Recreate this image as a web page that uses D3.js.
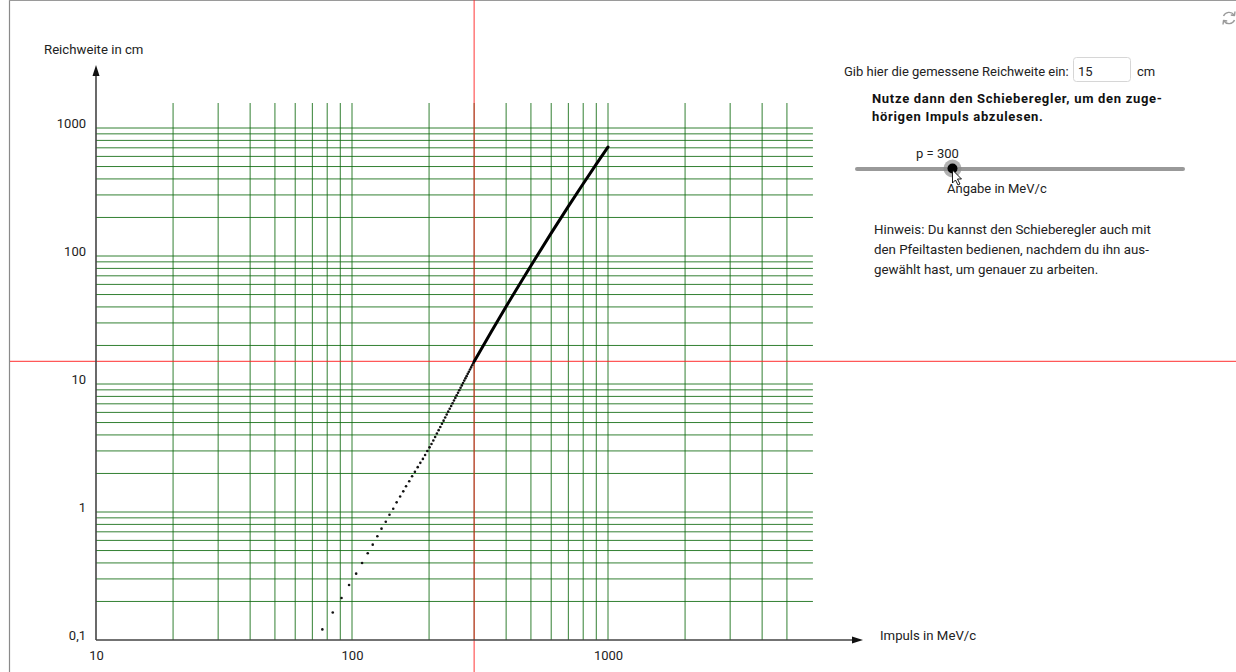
<!DOCTYPE html>
<html>
<head>
<meta charset="utf-8">
<script src="https://cdn.jsdelivr.net/npm/d3@7"></script>
<style>
  html, body { margin: 0; padding: 0; background: #fff; }
  svg { display: block; font-family: Roboto, "Open Sans", sans-serif; }
</style>
</head>
<body>
<svg id="chart" width="1236" height="672"></svg>
<script>
// Reichweite (cm) in Abhängigkeit vom Impuls (MeV/c)

// Punktfolge unterhalb des eingestellten Impulses
const dotMomentum = [76.6, 84.1, 91.0, 97.4, 103.8, 109.5, 115.2, 120.5, 125.6, 130.4,
  135.5, 140.1, 144.9, 149.4, 154.2, 158.6, 162.6, 167.3, 171.7, 176.1,
  180.6, 184.9, 189.2, 193.0, 196.9, 200.9, 204.4, 207.8, 211.2, 214.6,
  218.0, 221.3, 224.6, 227.9, 231.2, 234.4, 237.6, 240.8, 244.0, 247.1,
  250.2, 253.3, 256.4, 259.5, 262.5, 265.5, 268.5, 271.5, 274.5, 277.4,
  280.3, 283.2, 286.1, 289.0, 291.9, 294.7, 297.5];
const dotRange = [0.121, 0.164, 0.213, 0.269, 0.330, 0.400, 0.476, 0.556, 0.647, 0.741,
  0.840, 0.952, 1.06, 1.19, 1.32, 1.45, 1.59, 1.74, 1.90, 2.06,
  2.24, 2.42, 2.60, 2.79, 3.00, 3.20, 3.40, 3.62, 3.85, 4.10,
  4.36, 4.62, 4.89, 5.17, 5.47, 5.77, 6.08, 6.40, 6.74, 7.08,
  7.43, 7.79, 8.16, 8.55, 8.94, 9.35, 9.75, 10.19, 10.63, 11.07,
  11.52, 12.0, 12.47, 12.97, 13.48, 14.0, 14.52];

// durchgezogener Kurventeil ab dem eingestellten Impuls
const lineMomentum = [300, 350, 400, 500, 600, 700, 800, 900, 1000];
const lineRange = [15, 25.6, 40.3, 84, 151, 244, 367, 522, 711];

// Eingestellte Werte
const selectedMomentum = 300;
const measuredRange = 15;

// Gitterlinien
const gridMomentum = [20, 30, 40, 50, 60, 70, 80, 90, 100, 200, 300, 400, 500, 600, 700, 800, 900,
  1000, 2000, 3000, 4000, 5000];
const gridRange = [0.2, 0.3, 0.4, 0.5, 0.6, 0.7, 0.8, 0.9, 1, 2, 3, 4, 5, 6, 7, 8, 9,
  10, 20, 30, 40, 50, 60, 70, 80, 90, 100, 200, 300, 400, 500, 600, 700, 800, 900, 1000];

// Achsenbeschriftung
const xTickValues = [10, 100, 1000];
const xTickLabels = ["10", "100", "1000"];
const yTickValues = [0.1, 1, 10, 100, 1000];
const yTickLabels = ["0,1", "1", "10", "100", "1000"];

// Schieberegler
const sliderDomain = [10, 1000];

const svg = d3.select("#chart");

const x = d3.scaleLog().domain([10, 1000]).range([96, 608]);
const y = d3.scaleLog().domain([0.1, 1000]).range([640, 128]);

const gridColor = "#0f6a0f";
const gridRight = x(5000) + 26;
const gridTop = y(1000) - 25;

// Rahmen
svg.append("line").attr("x1", 9.5).attr("x2", 9.5).attr("y1", 0).attr("y2", 672)
  .attr("stroke", "#8a8a8a").attr("stroke-width", 1.2);
svg.append("line").attr("x1", 9).attr("x2", 1236).attr("y1", 0.5).attr("y2", 0.5)
  .attr("stroke", "#9a9a9a").attr("stroke-width", 1);

// Gitter
const grid = svg.append("g").attr("stroke", gridColor).attr("stroke-width", 1).attr("stroke-opacity", 0.85);
grid.selectAll("line.h").data(gridRange).join("line")
  .attr("class", "h")
  .attr("x1", x(10)).attr("x2", gridRight)
  .attr("y1", d => y(d)).attr("y2", d => y(d));
grid.selectAll("line.v").data(gridMomentum).join("line")
  .attr("class", "v")
  .attr("x1", d => x(d)).attr("x2", d => x(d))
  .attr("y1", gridTop).attr("y2", y(0.1));

// Rote Hilfslinien
svg.append("line")
  .attr("x1", x(selectedMomentum)).attr("x2", x(selectedMomentum))
  .attr("y1", 0).attr("y2", 672)
  .attr("stroke", "#ff2020").attr("stroke-opacity", 0.75).attr("stroke-width", 1.2);
svg.append("line")
  .attr("x1", 10).attr("x2", 1236)
  .attr("y1", y(measuredRange)).attr("y2", y(measuredRange))
  .attr("stroke", "#ff2020").attr("stroke-opacity", 0.75).attr("stroke-width", 1.2);

// Achsen mit Pfeilen
const axisColor = "#444";
svg.append("line").attr("x1", x(10)).attr("x2", x(10)).attr("y1", y(0.1)).attr("y2", 72)
  .attr("stroke", axisColor).attr("stroke-width", 1.6);
svg.append("path")
  .attr("d", `M${x(10)},65 L${x(10) - 3.5},76 L${x(10) + 3.5},76 Z`)
  .attr("fill", "#111");
svg.append("line").attr("x1", x(10)).attr("x2", 856).attr("y1", y(0.1)).attr("y2", y(0.1))
  .attr("stroke", axisColor).attr("stroke-width", 1.6);
svg.append("path")
  .attr("d", `M863,${y(0.1)} L852,${y(0.1) - 3.5} L852,${y(0.1) + 3.5} Z`)
  .attr("fill", "#111");

const xAxis = d3.axisBottom(x).tickValues(xTickValues)
  .tickFormat((d, i) => xTickLabels[i]).tickSize(0).tickPadding(11);
const gx = svg.append("g").attr("transform", `translate(0,${y(0.1)})`).call(xAxis);
gx.select(".domain").remove();
gx.selectAll("text").attr("font-size", 13).attr("fill", "#222")
  .style("font-family", "Roboto, sans-serif");

const yAxis = d3.axisLeft(y).tickValues(yTickValues)
  .tickFormat((d, i) => yTickLabels[i]).tickSize(0).tickPadding(10);
const gy = svg.append("g").attr("transform", `translate(${x(10)},0)`).call(yAxis);
gy.select(".domain").remove();
gy.selectAll("text").attr("font-size", 13).attr("fill", "#222")
  .attr("dy", "-0.05em")
  .style("font-family", "Roboto, sans-serif");

svg.append("text").attr("x", 44).attr("y", 54).attr("font-size", 13.2).attr("fill", "#222")
  .text("Reichweite in cm");
svg.append("text").attr("x", 880).attr("y", 640).attr("font-size", 13.2).attr("fill", "#222")
  .text("Impuls in MeV/c");

// Punktfolge
const dots = dotMomentum.map((p, i) => ({ p, r: dotRange[i] }));
svg.append("g").selectAll("circle").data(dots).join("circle")
  .attr("cx", d => x(d.p)).attr("cy", d => y(d.r)).attr("r", 1.3)
  .attr("fill", "#111");

// Durchgezogene Kurve
const linePts = lineMomentum.map((p, i) => ({ p, r: lineRange[i] }));
svg.append("path").datum(linePts)
  .attr("d", d3.line().x(d => x(d.p)).y(d => y(d.r)).curve(d3.curveMonotoneX))
  .attr("fill", "none").attr("stroke", "#000").attr("stroke-width", 3)
  .attr("stroke-linecap", "round");

// Bedienfeld rechts
const txt = (xx, yy, s, opts = {}) => svg.append("text")
  .attr("x", xx).attr("y", yy).attr("font-size", opts.size || 13)
  .attr("font-weight", opts.weight || 400)
  .attr("letter-spacing", opts.ls || 0)
  .attr("fill", opts.fill || "#222").text(s);

txt(844, 76, "Gib hier die gemessene Reichweite ein:");
svg.append("rect").attr("x", 1073.5).attr("y", 57.5).attr("width", 57).attr("height", 24)
  .attr("rx", 3).attr("fill", "#fff").attr("stroke", "#d6d6d6");
txt(1078, 76, String(measuredRange));
txt(1137, 76, "cm");

txt(872, 103, "Nutze dann den Schieberegler, um den zuge-", { weight: 700, ls: 0.7, fill: "#111" });
txt(872, 121, "hörigen Impuls abzulesen.", { weight: 700, ls: 0.7, fill: "#111" });

const slider = d3.scaleLinear().domain(sliderDomain).range([857, 1183]);
svg.append("line").attr("x1", slider(sliderDomain[0])).attr("x2", slider(sliderDomain[1]))
  .attr("y1", 169).attr("y2", 169)
  .attr("stroke", "#999").attr("stroke-width", 4).attr("stroke-linecap", "round");
const kx = slider(selectedMomentum);
svg.append("circle").attr("cx", kx).attr("cy", 168.5).attr("r", 9)
  .attr("fill", "#888").attr("fill-opacity", 0.65);
svg.append("circle").attr("cx", kx).attr("cy", 168.5).attr("r", 5).attr("fill", "#000");
txt(916, 158, "p = " + selectedMomentum);
txt(947, 193, "Angabe in MeV/c");

// Mauszeiger auf dem Regler
svg.append("path")
  .attr("d", `M${kx},${170} l0,13 l3,-3 l2.5,5 l2,-1 l-2.5,-5 l4,0 Z`)
  .attr("fill", "#fff").attr("stroke", "#000").attr("stroke-width", 0.9)
  .attr("stroke-linejoin", "round");

txt(874, 234, "Hinweis: Du kannst den Schieberegler auch mit", { size: 13.3 });
txt(874, 254, "den Pfeiltasten bedienen, nachdem du ihn aus-", { size: 13.3 });
txt(874, 274, "gewählt hast, um genauer zu arbeiten.", { size: 13.3 });

// Neu-laden-Symbol
const icon = svg.append("g").attr("transform", "translate(1229,18)")
  .attr("fill", "none").attr("stroke", "#9a9a9a").attr("stroke-width", 1.4);
icon.append("path").attr("d", "M5,-3 A6,6 0 0 0 -5.5,-2");
icon.append("path").attr("d", "M-5,3 A6,6 0 0 0 5.5,2");
icon.append("path").attr("d", "M6,-6.5 L5.5,-2.5 L1.8,-3").attr("stroke-linejoin", "round");
icon.append("path").attr("d", "M-6,6.5 L-5.5,2.5 L-1.8,3").attr("stroke-linejoin", "round");
</script>
</body>
</html>
